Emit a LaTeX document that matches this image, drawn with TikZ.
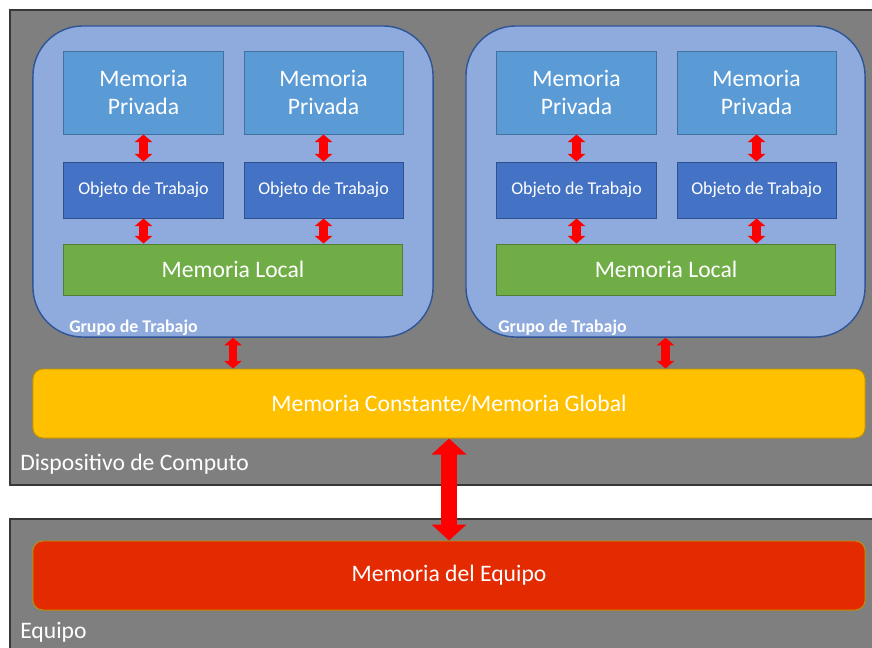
\documentclass[tikz,border=0pt]{standalone}
\usepackage{fontspec}
\setmainfont{Carlito}
\usetikzlibrary{positioning,arrows.meta}

\definecolor{fondo}{HTML}{7F7F7F}
\definecolor{borde}{HTML}{383838}
\definecolor{grpfill}{HTML}{8FAADC}
\definecolor{grpline}{HTML}{2F5597}
\definecolor{privfill}{HTML}{5B9BD5}
\definecolor{privline}{HTML}{41719C}
\definecolor{objfill}{HTML}{4472C4}
\definecolor{objline}{HTML}{2F528F}
\definecolor{localfill}{HTML}{70AD47}
\definecolor{localline}{HTML}{507E32}
\definecolor{globfill}{HTML}{FFC000}
\definecolor{equipofill}{HTML}{E32A00}
\definecolor{oroline}{HTML}{BF9000}

\begin{document}
\begin{tikzpicture}[
  x=0.025cm, y=-0.025cm,
  font=\fontsize{16.8}{19.9}\selectfont, text=white,
  caja/.style={draw, line width=0.7pt, inner sep=0pt, align=center},
  priv/.style={caja, draw=privline, fill=privfill, minimum width=3.975cm, minimum height=2.075cm},
  obj/.style={caja, draw=objline, fill=objfill, minimum width=3.975cm, minimum height=1.4cm,
    font=\fontsize{12.8}{15}\selectfont},
  local/.style={caja, draw=localline, fill=localfill, minimum width=8.45cm, minimum height=1.275cm},
  grupo/.style={caja, draw=grpline, fill=grpfill, line width=1pt, rounded corners=1.25cm,
    minimum width=10cm, minimum height=7.775cm},
  mem/.style={caja, draw=oroline, rounded corners=0.25cm, minimum width=20.8cm, minimum height=1.725cm},
  contenedor/.style={draw=borde, fill=fondo, line width=1.2pt},
  lbl/.style={anchor=base west, inner sep=0pt},
  grplbl/.style={lbl, font=\fontsize{12.7}{15}\selectfont\bfseries},
  flecha/.style={draw=red, line width=0.21cm,
    {Triangle[length=0.19cm,width=0.43cm]}-{Triangle[length=0.19cm,width=0.43cm]}},
  flechagrande/.style={draw=red, line width=0.39cm,
    {Triangle[length=0.4cm,width=0.85cm]}-{Triangle[length=0.4cm,width=0.85cm]}}
]
  \fill[white] (0,0) rectangle (872,647);
  \clip (0,0) rectangle (872,647);

  \draw[contenedor] (10,10) rectangle (890,485);
  \draw[contenedor] (10,519) rectangle (890,665);
  \node[lbl] (disp) at (20,470) {Dispositivo de Computo};
  \node[lbl] (equipo) at (20,638) {Equipo};

  \node[grupo] (g1) at (233,181.5) {};
  \node[priv] (p1) at (143.5,92.5) {Memoria\\Privada};
  \node[priv, right=0.5cm of p1] (p2) {Memoria\\Privada};
  \node[obj, below=0.675cm of p1] (o1) {Objeto de Trabajo};
  \node[obj, below=0.675cm of p2] (o2) {Objeto de Trabajo};
  \node[local] (l1) at (233,269.5) {Memoria Local};
  \node[grplbl] (gl1) at (69,332) {Grupo de Trabajo};

  \node[grupo, minimum width=9.975cm] (g2) at (665.5,181.5) {};
  \node[priv] (p3) at (576.5,92.5) {Memoria\\Privada};
  \node[priv, right=0.5cm of p3] (p4) {Memoria\\Privada};
  \node[obj, below=0.675cm of p3] (o3) {Objeto de Trabajo};
  \node[obj, below=0.675cm of p4] (o4) {Objeto de Trabajo};
  \node[local] (l2) at (666,269.5) {Memoria Local};
  \node[grplbl] (gl2) at (498,332) {Grupo de Trabajo};

  \node[mem, fill=globfill] (glob) at (449,403.5) {Memoria Constante/Memoria Global};
  \node[mem, fill=equipofill] (memeq) at (449,575.5) {Memoria del Equipo};

  \draw[flecha] (p1.south) -- (o1.north);
  \draw[flecha] (p2.south) -- (o2.north);
  \draw[flecha] (o1.south) -- (o1.south |- l1.north);
  \draw[flecha] (o2.south) -- (o2.south |- l1.north);
  \draw[flecha] (p3.south) -- (o3.north);
  \draw[flecha] (p4.south) -- (o4.north);
  \draw[flecha] (o3.south) -- (o3.south |- l2.north);
  \draw[flecha] (o4.south) -- (o4.south |- l2.north);
  \draw[flecha] (g1.south) -- (g1.south |- glob.north);
  \draw[flecha] (g2.south) -- (g2.south |- glob.north);
  \draw[flechagrande] (glob.south) -- (memeq.north);
\end{tikzpicture}
\end{document}
